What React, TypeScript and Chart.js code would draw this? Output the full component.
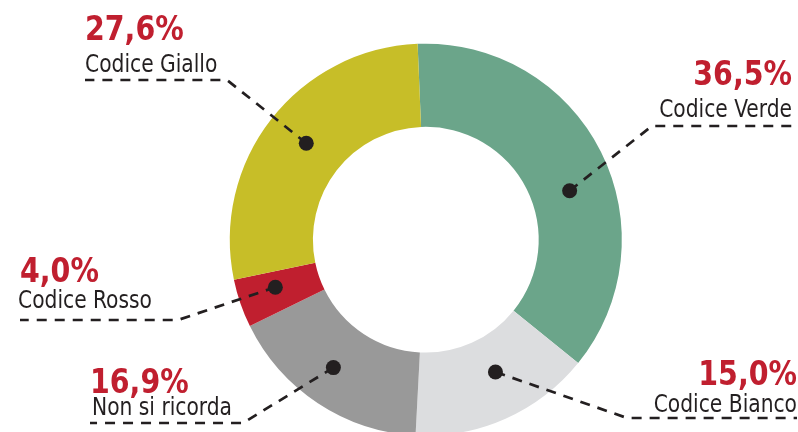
import React, { useEffect, useRef } from "react";
import { Chart, registerables } from "chart.js";

Chart.register(...registerables);

const categories = ["Codice Verde", "Codice Bianco", "Non si ricorda", "Codice Rosso", "Codice Giallo"];
const values = [36.5, 15.0, 16.9, 4.0, 27.6];
const colors = ["#6ba58a", "#dcdddf", "#999999", "#c01f2f", "#c7be28"];

// where the black dot sits within each slice (fraction of arc angle, fraction of ring depth)
const dotAngleFrac = [0.56, 0.43, 0.54, 0.6, 0.51];
const dotRingFrac = [0.47, 0.44, 0.54, 0.54, 0.49];

type LabelLayout = {
  x: number;
  align: "left" | "right";
  pctY: number;
  nameY: number;
  nameDx: number;
  elbow: [number, number];
  end: [number, number];
};

const labelLayout: LabelLayout[] = [
  { x: 792, align: "right", pctY: 85, nameY: 117, nameDx: 0, elbow: [652, 126], end: [792, 126] },
  { x: 797, align: "right", pctY: 385, nameY: 412, nameDx: 0, elbow: [627, 418], end: [797, 418] },
  { x: 90, align: "left", pctY: 393, nameY: 415, nameDx: 2, elbow: [243, 423], end: [90, 423] },
  { x: 20, align: "left", pctY: 282, nameY: 308, nameDx: -2, elbow: [178, 320], end: [20, 320] },
  { x: 85, align: "left", pctY: 40, nameY: 72, nameDx: 0, elbow: [227, 80], end: [85, 80] },
];

const fmt = (v: number) => v.toFixed(1).replace(".", ",") + "%";

function drawScaledText(
  ctx: CanvasRenderingContext2D,
  text: string,
  x: number,
  y: number,
  align: "left" | "right",
  font: string,
  color: string,
  sx: number
) {
  ctx.save();
  ctx.font = font;
  ctx.fillStyle = color;
  ctx.textAlign = align;
  ctx.textBaseline = "alphabetic";
  ctx.translate(x, y);
  ctx.scale(sx, 1);
  ctx.fillText(text, 0, 0);
  ctx.restore();
}

const labelPlugin = {
  id: "calloutLabels",
  afterDraw(chart: any) {
    const ctx = chart.ctx as CanvasRenderingContext2D;
    const meta = chart.getDatasetMeta(0);
    meta.data.forEach((arc: any, i: number) => {
      const p = arc.getProps(["x", "y", "startAngle", "endAngle", "innerRadius", "outerRadius"], true);
      const a = p.startAngle + dotAngleFrac[i] * (p.endAngle - p.startAngle);
      const r = p.innerRadius + dotRingFrac[i] * (p.outerRadius - p.innerRadius);
      const dx = p.x + Math.cos(a) * r;
      const dy = p.y + Math.sin(a) * r;
      const L = labelLayout[i];

      ctx.save();
      ctx.strokeStyle = "#231f20";
      ctx.lineWidth = 2.7;
      ctx.setLineDash([10, 8]);
      ctx.beginPath();
      ctx.moveTo(dx, dy);
      ctx.lineTo(L.elbow[0], L.elbow[1]);
      ctx.lineTo(L.end[0], L.end[1]);
      ctx.stroke();
      ctx.setLineDash([]);
      ctx.fillStyle = "#231f20";
      ctx.beginPath();
      ctx.arc(dx, dy, 7.5, 0, Math.PI * 2);
      ctx.fill();
      ctx.restore();

      drawScaledText(
        ctx,
        fmt(values[i]),
        L.x,
        L.pctY,
        L.align,
        "bold 34px 'DejaVu Sans Condensed', 'DejaVu Sans', sans-serif",
        "#c01f2f",
        0.93
      );
      drawScaledText(
        ctx,
        categories[i],
        L.x + L.nameDx,
        L.nameY,
        L.align,
        "25px 'DejaVu Sans Condensed', 'DejaVu Sans', sans-serif",
        "#231f20",
        0.9
      );
    });
  },
};

export default function App() {
  const ref = useRef<HTMLCanvasElement | null>(null);
  useEffect(() => {
    document.body.style.margin = "0";
    const chart = new Chart(ref.current as HTMLCanvasElement, {
      type: "doughnut",
      data: {
        labels: categories,
        datasets: [
          {
            data: values,
            backgroundColor: colors,
            borderWidth: 0,
          },
        ],
      },
      options: {
        responsive: false,
        animation: false,
        rotation: -2.4,
        cutout: "57.6%",
        layout: { padding: { top: 43.7, bottom: 4.3, left: 229.8, right: 176.2 } },
        plugins: { legend: { display: false }, tooltip: { enabled: false } },
      },
      plugins: [labelPlugin],
    });
    return () => chart.destroy();
  }, []);
  return (
    <div style={{ width: 798, height: 432, overflow: "hidden", background: "#fff" }}>
      <canvas ref={ref} width={798} height={440} style={{ display: "block" }} />
    </div>
  );
}
